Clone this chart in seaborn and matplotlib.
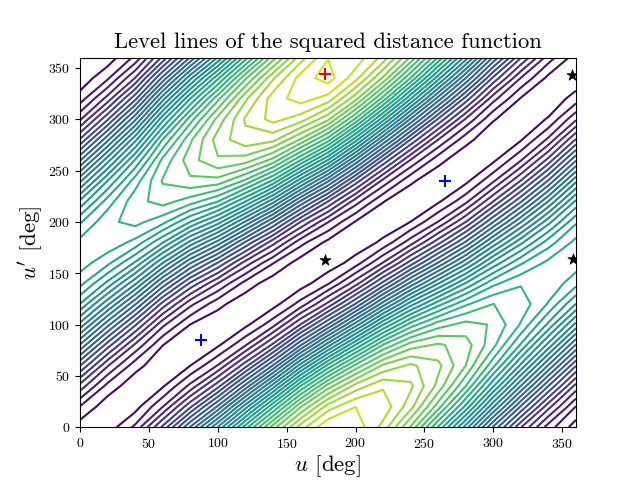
import numpy as np
import matplotlib
matplotlib.use('Agg')
import matplotlib.pyplot as plt
import seaborn as sns

# grid, 20 deg steps (u=360 and u'=360 wrap onto 0)
u_deg = [0, 20, 40, 60, 80, 100, 120, 140, 160, 180, 200, 220, 240, 260, 280, 300, 320, 340]
up_deg = [0, 20, 40, 60, 80, 100, 120, 140, 160, 180, 200, 220, 240, 260, 280, 300, 320, 340]

# contour index at each grid point, one list per u, going up in u'
dist_u0 = [.47, 1.95, 4.59, 8.04, 11.89, 15.68, 18.97, 21.35, 22.51, 22.33, 20.85, 18.21, 14.76, 10.91, 7.12, 3.83, 1.45, .29]
dist_u20 = [.40, .34, 1.63, 4.10, 7.49, 11.35, 15.25, 18.70, 21.29, 22.70, 22.76, 21.47, 19.0, 15.61, 11.75, 7.85, 4.40, 1.81]
dist_u40 = [2.22, .55, .27, 1.40, 3.80, 7.18, 11.13, 15.19, 18.86, 21.70, 23.35, 23.63, 22.50, 20.10, 16.72, 12.77, 8.71, 5.04]
dist_u60 = [6.23, 2.96, .87, .20, 1.02, 3.26, 6.62, 10.71, 15.02, 19.07, 22.34, 24.43, 25.10, 24.28, 22.04, 18.68, 14.59, 10.28]
dist_u80 = [11.10, 6.80, 3.29, .99, .20, .99, 3.29, 6.80, 11.10, 15.70, 20.0, 23.51, 25.81, 26.60, 25.81, 23.51, 20.0, 15.70]
dist_u100 = [16.08, 11.18, 6.65, 3.06, .82, .23, 1.33, 3.99, 7.93, 12.62, 17.52, 22.05, 25.64, 27.88, 28.47, 27.37, 24.71, 20.77]
dist_u120 = [21.53, 16.52, 11.33, 6.59, 2.90, .71, .26, 1.61, 4.58, 8.87, 13.88, 19.07, 23.81, 27.50, 29.69, 30.14, 28.79, 25.82]
dist_u140 = [26.50, 21.84, 16.49, 11.07, 6.25, 2.59, .55, .36, 2.06, 5.40, 10.06, 15.41, 20.83, 25.65, 29.31, 31.35, 31.54, 29.84]
dist_u160 = [30.52, 26.88, 22.01, 16.45, 10.89, 6.02, 2.38, .46, .46, 2.38, 6.02, 10.89, 16.45, 22.01, 26.88, 30.52, 32.44, 32.44]
dist_u180 = [32.95, 30.49, 26.48, 21.32, 15.59, 10.03, 5.26, 1.89, .30, .70, 3.05, 7.02, 12.18, 17.91, 23.47, 28.24, 31.61, 33.50]
dist_u200 = [32.67, 31.99, 29.42, 25.29, 20.09, 14.47, 9.07, 4.56, 1.50, .23, .92, 3.48, 7.61, 12.81, 18.43, 23.83, 28.35, 31.40]
dist_u220 = [30.66, 31.70, 30.85, 28.20, 24.08, 18.94, 13.49, 8.33, 4.07, 1.24, .20, 1.05, 3.70, 7.82, 12.96, 18.41, 23.57, 27.83]
dist_u240 = [26.87, 29.39, 30.20, 29.21, 26.51, 22.46, 17.54, 12.35, 7.46, 3.53, 1.01, .20, 1.19, 3.89, 7.94, 12.86, 18.05, 22.94]
dist_u260 = [21.89, 25.46, 27.68, 28.27, 27.18, 24.53, 20.63, 15.96, 11.10, 6.61, 3.04, .82, .23, 1.32, 3.97, 7.87, 12.54, 17.40]
dist_u280 = [16.53, 20.71, 24.0, 26.0, 26.47, 25.37, 22.82, 19.11, 14.72, 10.17, 5.99, 2.70, .70, .23, 1.33, 3.88, 7.59, 11.98]
dist_u300 = [10.82, 15.12, 19.10, 22.28, 24.31, 24.89, 24.01, 21.74, 18.35, 14.28, 9.98, 6.0, 2.82, .79, .20, 1.09, 3.36, 6.75]
dist_u320 = [6.05, 9.86, 13.94, 17.75, 20.86, 22.90, 23.60, 22.90, 20.86, 17.75, 13.94, 9.86, 6.05, 2.94, .90, .20, .90, 2.94]
dist_u340 = [2.48, 5.35, 8.97, 12.88, 16.63, 19.77, 21.90, 22.78, 22.30, 20.52, 17.65, 14.03, 10.12, 6.37, 3.23, 1.10, .22, .70]

all_columns = [dist_u0, dist_u20, dist_u40, dist_u60, dist_u80, dist_u100, dist_u120, dist_u140, dist_u160,
               dist_u180, dist_u200, dist_u220, dist_u240, dist_u260, dist_u280, dist_u300, dist_u320, dist_u340]

# marked points
saddle_u = [178, 357, 358]
saddle_up = [163, 343, 164]
min_u = [88, 265]
min_up = [85, 240]
max_u = [178]
max_up = [344]

sns.set_style('ticks', {'axes.edgecolor': 'black', 'xtick.color': 'black', 'ytick.color': 'black',
                        'text.color': 'black', 'axes.labelcolor': 'black'})
plt.rcParams['font.family'] = ['cmr10', 'DejaVu Sans']
plt.rcParams['mathtext.fontset'] = 'cm'
plt.rcParams['axes.formatter.use_mathtext'] = True
plt.rcParams['axes.unicode_minus'] = False

# wrap the periodic grid so it reaches 360 on both axes
field = np.array(all_columns).T
field = np.vstack([field, field[0]])
field = np.column_stack([field, field[:, 0]])
xs = u_deg + [360]
ys = up_deg + [360]

fig, ax = plt.subplots(figsize=(6.4, 4.8), dpi=100)
ax.contour(xs, ys, field, levels=np.arange(1, 34), cmap=sns.color_palette('viridis', as_cmap=True),
           vmin=0, vmax=35, linewidths=1.5)
sns.scatterplot(x=saddle_u, y=saddle_up, marker='*', s=70, color='black', edgecolor='black', linewidth=0.5, ax=ax, zorder=3)
sns.scatterplot(x=min_u, y=min_up, marker='+', s=80, color='blue', linewidth=1.5, ax=ax, zorder=3)
sns.scatterplot(x=max_u, y=max_up, marker='+', s=80, color='red', linewidth=1.5, ax=ax, zorder=3)

ax.set_xlim(0, 360)
ax.set_ylim(0, 360)
ax.set_xticks(np.arange(0, 351, 50))
ax.set_yticks(np.arange(0, 351, 50))
ax.tick_params(labelsize=10, width=0.8, length=3.5)
for sp in ax.spines.values():
    sp.set_linewidth(0.8)
ax.set_title('Level lines of the squared distance function', fontsize=16.3, pad=7)
ax.set_xlabel(r'$u$ [deg]', fontsize=16.5, labelpad=2)
ax.set_ylabel(r"$u'$ [deg]", fontsize=16.5, labelpad=2)

fig.subplots_adjust(left=0.125, right=0.9, top=0.88, bottom=0.11)
fig.savefig('out.png', dpi=100)
